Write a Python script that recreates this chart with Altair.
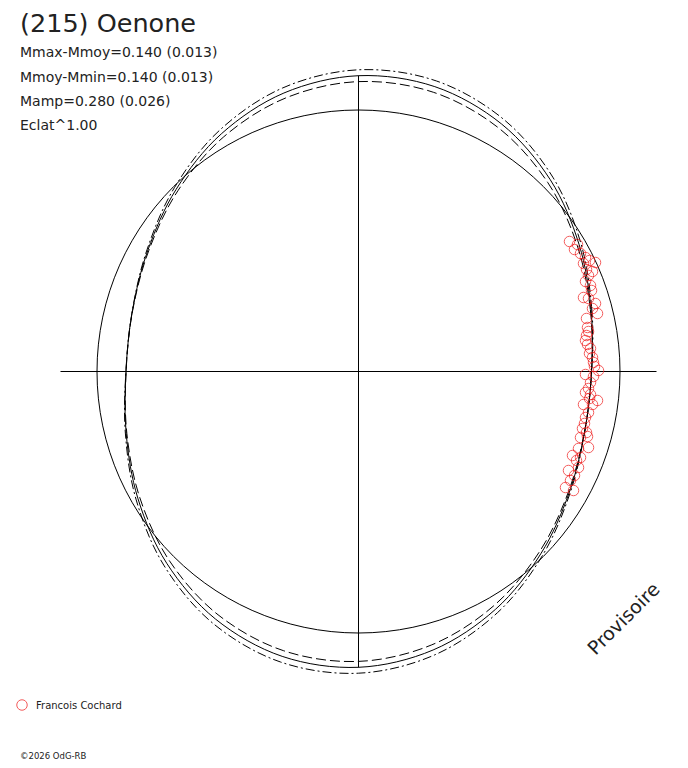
import math
import altair as alt
import pandas as pd

# ---------------- text content ----------------
title_text = "(215) Oenone"
stat_lines = [
    "Mmax-Mmoy=0.140 (0.013)",
    "Mmoy-Mmin=0.140 (0.013)",
    "Mamp=0.280 (0.026)",
    "Eclat^1.00",
]
observer_name = "Francois Cochard"
credit_text = "\u00a92026 OdG-RB"
stamp_text = "Provisoire"

# ---------------- data (plot units, centre = 0,0) ----------------
phase_deg = [0, 15, 30, 45, 60, 75, 90, 105, 120, 135, 150, 165,
             180, 195, 210, 225, 240, 255, 270, 285, 300, 315, 330, 345]
# fitted curve radius, read at each phase
fit_r = [233.0, 240.7, 254.6, 271.2, 285.9, 294.9, 295.8, 288.3, 274.4, 257.8, 243.1, 234.1,
         232.5, 240.5, 254.6, 271.2, 285.9, 294.9, 295.8, 288.3, 274.4, 257.8, 243.1, 234.1]
# upper (dash-dot) and lower (dashed) uncertainty curves
hi_r = [233.2, 241.5, 256.7, 274.8, 290.9, 300.8, 301.7, 293.5, 278.3, 260.2, 244.1, 234.2,
        232.6, 241.3, 256.7, 274.8, 290.9, 300.8, 301.7, 293.5, 278.3, 260.2, 244.1, 234.2]
lo_r = [233.0, 240.0, 252.5, 267.5, 280.9, 289.1, 289.9, 283.0, 270.5, 255.5, 242.1, 233.9,
        232.4, 239.8, 252.5, 267.5, 280.9, 289.1, 289.9, 283.0, 270.5, 255.5, 242.1, 233.9]
ref_radius = 261.5
axis_half_x = 298
axis_half_y = 296

# observations (Francois Cochard)
pt_x = [211, 219, 216, 222, 227, 231, 237, 225, 228, 234, 230, 227, 232, 233, 225, 230,
        237, 234, 239, 228, 229, 230, 228, 227, 229, 232, 231, 234, 235, 236, 240, 227,
        235, 232, 230, 227, 232, 231, 239, 225, 234, 230, 227, 226, 224, 228, 229, 222,
        230, 220, 214, 222, 218, 220, 210, 216, 212, 207, 215]
pt_y = [130, 127, 122, 118, 114, 111, 109, 108, 102, 100, 96, 90, 86, 81, 74, 73,
        68, 63, 58, 53, 44, 40, 36, 31, 27, 23, 18, 14, 9, 5, 1, -3,
        -5, -11, -17, -21, -23, -27, -29, -33, -33, -41, -46, -52, -57, -61, -65, -66,
        -76, -77, -84, -86, -89, -96, -99, -104, -109, -116, -119]

# ---------------- tables ----------------
def polar_table(radii, name):
    rows = []
    for i, (a, r) in enumerate(zip(phase_deg, radii)):
        t = math.radians(a)
        rows.append({"curve": name, "i": i, "x": r * math.cos(t), "y": r * math.sin(t)})
    return pd.DataFrame(rows)

fit_df = polar_table(fit_r, "fit")
hi_df = polar_table(hi_r, "hi")
lo_df = polar_table(lo_r, "lo")

circ_rows = []
for k in range(120):
    t = 2 * math.pi * k / 120
    circ_rows.append({"i": k, "x": ref_radius * math.cos(t), "y": ref_radius * math.sin(t)})
circ_df = pd.DataFrame(circ_rows)

rules_df = pd.DataFrame([
    {"x": -axis_half_x, "x2": axis_half_x, "y": 0, "y2": 0},
    {"x": 0, "x2": 0, "y": -axis_half_y, "y2": axis_half_y},
])
pts_df = pd.DataFrame({"x": pt_x, "y": pt_y})

# ---------------- scales ----------------
W, H = 672, 752
X = alt.X("x:Q", scale=alt.Scale(domain=[-350.5, 321.5], nice=False, zero=False), axis=None)
Y = alt.Y("y:Q", scale=alt.Scale(domain=[-388.5, 363.5], nice=False, zero=False), axis=None)

def curve(df, dash=None):
    kw = dict(interpolate="cardinal-closed", color="black", strokeWidth=1)
    if dash is not None:
        kw["strokeDash"] = dash
    return alt.Chart(df).mark_line(**kw).encode(x=X, y=Y, order="i:Q")

ref_circle = alt.Chart(circ_df).mark_line(interpolate="linear-closed", color="black",
                                           strokeWidth=1).encode(x=X, y=Y, order="i:Q")
axes_lines = alt.Chart(rules_df).mark_rule(color="black", strokeWidth=1).encode(
    x=X, x2="x2:Q", y=Y, y2="y2:Q")
fit_line = curve(fit_df)
hi_line = curve(hi_df, [9, 3, 2, 3])
lo_line = curve(lo_df, [10, 4])
points = alt.Chart(pts_df).mark_point(shape="circle", filled=False, size=110,
                                      color="#f01818", strokeWidth=1).encode(x=X, y=Y)

FONT = "DejaVu Sans"
TXT = "#222222"

def text_layer(s, px, py, size, **kw):
    df = pd.DataFrame({"t": [s]})
    return alt.Chart(df).mark_text(font=FONT, fontSize=size, color=TXT, align=kw.pop("align", "left"),
                                   baseline=kw.pop("baseline", "alphabetic"), **kw).encode(
        x=alt.value(px - 8), y=alt.value(py - 8), text="t:N")

layers = [ref_circle, axes_lines, lo_line, hi_line, fit_line, points]
layers.append(text_layer(title_text, 20, 32, 25.5))
for s, by in zip(stat_lines, [57, 82, 106, 130]):
    layers.append(text_layer(s, 20, by, 14))
layers.append(text_layer(observer_name, 36, 709, 10))
layers.append(text_layer(credit_text, 20, 759, 8.5))
layers.append(text_layer(stamp_text, 624, 619, 19, align="center", baseline="middle", angle=315))

legend_df = pd.DataFrame({"name": [observer_name]})
layers.append(alt.Chart(legend_df).mark_point(shape="circle", filled=False, size=110,
                                               color="#f01818", strokeWidth=1).encode(
    x=alt.value(22 - 8), y=alt.value(705 - 8)))

chart = alt.layer(*layers).properties(
    width=W, height=H, padding=0,
    autosize=alt.AutoSizeParams(type="none"),
).configure_view(stroke=None)

chart.save("out.html", embed_options={"renderer": "svg", "actions": False})
